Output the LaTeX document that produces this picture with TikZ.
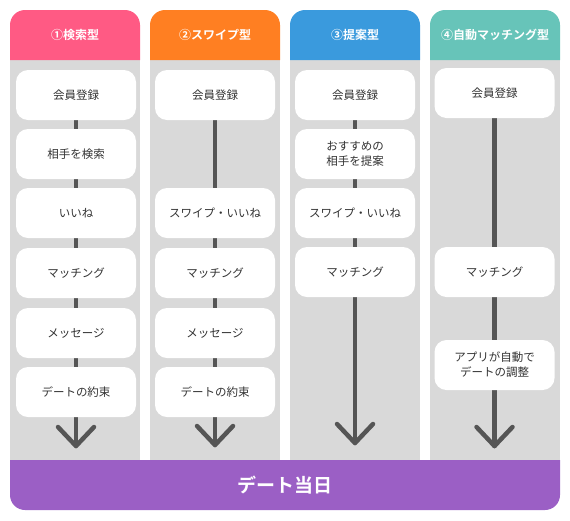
\documentclass[tikz,border=0pt]{standalone}
\usepackage{fontspec}
\setmainfont{Noto Sans CJK JP}[BoldFont={Noto Sans CJK JP Bold}]
\usetikzlibrary{backgrounds}
\definecolor{cpink}{HTML}{FF5A84}
\definecolor{corange}{HTML}{FF7F22}
\definecolor{cblue}{HTML}{3A9ADD}
\definecolor{cteal}{HTML}{67C4B9}
\definecolor{cpurple}{HTML}{9B5FC5}
\definecolor{cgray}{HTML}{D9D9D9}
\definecolor{carrow}{HTML}{555555}
\definecolor{ctext}{HTML}{333333}
\begin{document}
\begin{tikzpicture}[x=1pt,y=-1pt,
  stepbox/.style={fill=white, rounded corners=12pt, minimum width=120pt, minimum height=50pt,
    inner sep=2pt, align=center, text=ctext, font=\fontsize{11.5}{15}\selectfont},
  headtext/.style={text=white, font=\bfseries\fontsize{12}{14}\selectfont},
  flowline/.style={draw=carrow, line width=4.5pt, line cap=round, line join=round},
  colbg/.style={fill=cgray}]
\useasboundingbox (0,0) rectangle (570,520);

% column 1
\node[stepbox] (a1) at (76,95) {会員登録};
\node[stepbox] (a2) at (76,154) {相手を検索};
\node[stepbox] (a3) at (76,213) {いいね};
\node[stepbox] (a4) at (76,273) {マッチング};
\node[stepbox] (a5) at (76,333) {メッセージ};
\node[stepbox] (a6) at (76,392) {デートの約束};
\coordinate (e1) at (76,446);

% column 2
\node[stepbox] (b1) at (215,95) {会員登録};
\node[stepbox] (b2) at (215,213) {スワイプ・いいね};
\node[stepbox] (b3) at (215,273) {マッチング};
\node[stepbox] (b4) at (215,333) {メッセージ};
\node[stepbox] (b5) at (215,392) {デートの約束};
\coordinate (e2) at (215,445);

% column 3
\node[stepbox] (c1) at (355,95) {会員登録};
\node[stepbox] (c2) at (355,154) {おすすめの\\相手を提案};
\node[stepbox] (c3) at (355,213) {スワイプ・いいね};
\node[stepbox] (c4) at (355,272) {マッチング};
\coordinate (e3) at (355,443);

% column 4
\node[stepbox] (d1) at (494.5,93) {会員登録};
\node[stepbox] (d2) at (494.5,272) {マッチング};
\node[stepbox] (d3) at (494.5,365) {アプリが自動で\\デートの調整};
\coordinate (e4) at (494.5,446);

\begin{scope}[on background layer]
  % columns
  \foreach \x/\c in {10/cpink,150/corange,290/cblue,430/cteal}{
    \fill[colbg] (\x,60) rectangle (\x+130,460);
    \fill[\c] (\x,60) [rounded corners=15pt] -- (\x,10) -- (\x+130,10) [sharp corners] -- (\x+130,60) -- cycle;
  }
  % arrows behind boxes
  \foreach \s/\e in {a1/e1,b1/e2,c1/e3,d1/e4}{
    \draw[flowline] (\s.center) -- (\e);
    \draw[flowline] (\e) ++(-18,-19) -- (\e) -- ++(18,-19);
  }
\end{scope}

\node[headtext] (h1) at (75,35) {①検索型};
\node[headtext] (h2) at (215,35) {②スワイプ型};
\node[headtext] (h3) at (355,35) {③提案型};
\node[headtext] (h4) at (495,35) {④自動マッチング型};

% bottom bar
\fill[cpurple] (10,460) -- (560,460) [rounded corners=15pt] -- (560,510) -- (10,510) [sharp corners] -- cycle;
\node[text=white, font=\bfseries\fontsize{19}{22}\selectfont] (goal) at (285,485) {デート当日};
\end{tikzpicture}
\end{document}
